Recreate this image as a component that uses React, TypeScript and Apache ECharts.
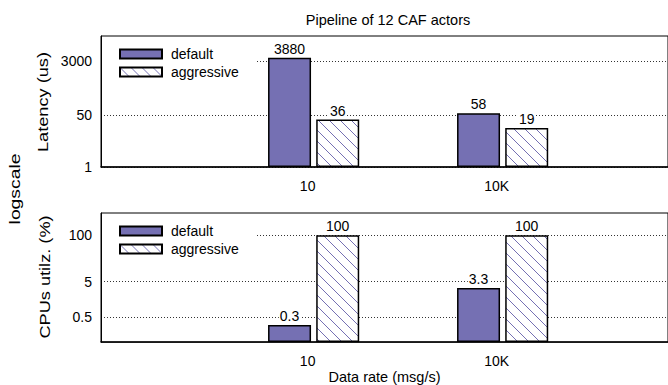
import React, { useEffect, useRef } from "react";
import * as echarts from "echarts";

// Data rates on the x axis and the measured values per scheduler policy
const rates = ["10", "10K"];
const latencyDefault = [3880, 58];
const latencyAggressive = [36, 19];
const cpuDefault = [0.3, 3.3];
const cpuAggressive = [100, 100];

// Tick values of the two log-scaled y axes
const latencyTicks = [1, 50, 3000];
const cpuTicks = [0.5, 5, 100];

// The x axis is split into evenly spaced slots; the rates sit in two of them
const SLOT_COUNT = 12;
const RATE_SLOTS = [4, 8];

const FONT = "'Liberation Sans', Arial, Helvetica, sans-serif";
const PURPLE = "#7570b3";

function spread<T>(values: T[], blank: T): T[] {
  const out: T[] = Array(SLOT_COUNT).fill(blank);
  RATE_SLOTS.forEach((slot, i) => {
    out[slot] = values[i];
  });
  return out;
}

function hatchPattern() {
  const s = 11;
  const c = document.createElement("canvas");
  c.width = s;
  c.height = s;
  const ctx = c.getContext("2d")!;
  ctx.fillStyle = "#ffffff";
  ctx.fillRect(0, 0, s, s);
  ctx.strokeStyle = PURPLE;
  ctx.lineWidth = 1;
  ctx.beginPath();
  for (const k of [-1, 0, 1]) {
    ctx.moveTo(k * s, 0);
    ctx.lineTo(k * s + s, s);
  }
  ctx.stroke();
  return { image: c, repeat: "repeat", imageWidth: s, imageHeight: s };
}

const textBase = { fontFamily: FONT, fontSize: 14, color: "#000" };

function xAxis(gridIndex: number, name?: string) {
  return {
    type: "category",
    gridIndex,
    data: spread(rates, ""),
    boundaryGap: true,
    name: name ?? "",
    nameLocation: "middle",
    nameGap: 25,
    nameTextStyle: { ...textBase, fontSize: 14.5 },
    axisLine: { show: true, lineStyle: { color: "#000", width: 1.5 } },
    axisTick: { show: false },
    axisLabel: { ...textBase, interval: 0, margin: 12, padding: [0, 12, 0, 0] },
    splitLine: { show: false },
  };
}

function yAxis(gridIndex: number, min: number, max: number, ticks: number[]) {
  return {
    type: "log",
    logBase: 10,
    gridIndex,
    min,
    max,
    startValue: min,
    axisLine: { show: true, lineStyle: { color: "#000", width: 1 } },
    axisTick: { show: false, customValues: ticks },
    axisLabel: {
      ...textBase,
      margin: 9,
      customValues: ticks,
      formatter: (v: number) => String(+Number(v).toPrecision(6)),
    },
    splitLine: { show: true, lineStyle: { type: [1, 2], color: "#333", width: 1 } },
  };
}

function legend(top: number) {
  return {
    orient: "vertical",
    left: 102,
    top,
    padding: [5, 18, 5, 17],
    backgroundColor: "#fff",
    itemWidth: 42,
    itemHeight: 9,
    itemGap: 4,
    icon: "rect",
    selectedMode: false,
    data: ["default", "aggressive"],
    textStyle: { ...textBase, padding: [0, 0, 0, 4] },
  };
}

function bars(name: string, values: number[], gridIndex: number, fill: any) {
  return {
    type: "bar",
    name,
    xAxisIndex: gridIndex,
    yAxisIndex: gridIndex,
    data: spread<number | string>(values, "-"),
    barWidth: 43,
    barGap: "12%",
    itemStyle: { color: fill, borderColor: "#000", borderWidth: 1.5 },
    label: {
      show: true,
      position: "top",
      distance: 2,
      ...textBase,
      lineHeight: 14,
      backgroundColor: "#fff",
      padding: [0, 1],
    },
  };
}

// Vertical side captions, stretched along their run
function sideText(text: string, x: number, y: number, stretch: number) {
  return {
    type: "text",
    x,
    y,
    rotation: Math.PI / 2,
    scaleX: stretch,
    style: {
      text,
      font: `14px ${FONT}`,
      fill: "#000",
      align: "center",
      verticalAlign: "middle",
    },
  };
}

export default function App() {
  const ref = useRef<HTMLDivElement>(null);

  useEffect(() => {
    document.body.style.margin = "0";
    const chart = echarts.init(ref.current!, null, { renderer: "svg" });
    const hatch = hatchPattern();
    chart.setOption({
      animation: false,
      backgroundColor: "#fff",
      title: {
        text: "Pipeline of 12 CAF actors",
        left: 388,
        top: 12,
        textAlign: "center",
        padding: 0,
        textStyle: { ...textBase, fontSize: 14.5, fontWeight: "normal" },
      },
      grid: [
        { left: 101, top: 36, right: -7, height: 131, show: true, borderColor: "#000", borderWidth: 1 },
        { left: 101, top: 213, right: -7, height: 132, show: true, borderColor: "#000", borderWidth: 1 },
      ],
      legend: [legend(42), legend(219)],
      xAxis: [xAxis(0), xAxis(1, "Data rate (msg/s)")],
      yAxis: [
        yAxis(0, 1, 20000, latencyTicks),
        yAxis(1, 0.1, 420, cpuTicks),
      ],
      graphic: [
        sideText("logscale", 15, 189, 1.38),
        sideText("Latency (us)", 43, 102, 1.3),
        sideText("CPUs utilz. (%)", 45, 277, 1.3),
      ],
      series: [
        bars("default", latencyDefault, 0, PURPLE),
        bars("aggressive", latencyAggressive, 0, hatch),
        bars("default", cpuDefault, 1, PURPLE),
        bars("aggressive", cpuAggressive, 1, hatch),
      ],
    });
    return () => chart.dispose();
  }, []);

  return (
    <div
      ref={ref}
      style={{ position: "absolute", left: 0, top: 0, width: 668, height: 385 }}
    />
  );
}
